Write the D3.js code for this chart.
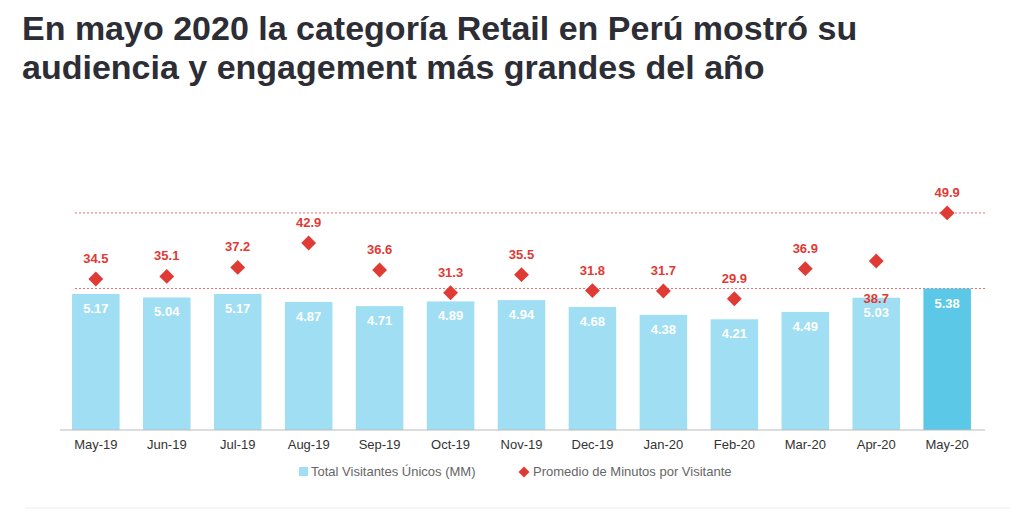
<!DOCTYPE html><html><head><meta charset="utf-8"><script src="https://cdn.jsdelivr.net/npm/d3@7"></script>
<style>body{margin:0;background:#fff}</style></head><body><svg id="c" width="1035" height="514"></svg>
<script>
const categories=["May-19","Jun-19","Jul-19","Aug-19","Sep-19","Oct-19","Nov-19","Dec-19","Jan-20","Feb-20","Mar-20","Apr-20","May-20"];
const visitantes=[5.17,5.04,5.17,4.87,4.71,4.89,4.94,4.68,4.38,4.21,4.49,5.03,5.38];
const minutos=[34.5,35.1,37.2,42.9,36.6,31.3,35.5,31.8,31.7,29.9,36.9,38.7,49.9];
const svg=d3.select("#c");
const F="Liberation Sans, Arial, sans-serif";
svg.append("text").attr("x",22).attr("y",40).attr("font-family",F).attr("font-weight","bold").attr("font-size",34).attr("fill","#2d2d35").text("En mayo 2020 la categoría Retail en Perú mostró su");
svg.append("text").attr("x",22).attr("y",79).attr("font-family",F).attr("font-weight","bold").attr("font-size",34).attr("fill","#2d2d35").text("audiencia y engagement más grandes del año");
const x=d3.scaleBand().domain(categories).range([60,983]).paddingInner(0.33).paddingOuter(0.17);
const yb=d3.scaleLinear().domain([0,10]).range([430,167]);
const yl=d3.scaleLinear().domain([0,50]).range([427,212.5]);
const dl=(y)=>svg.append("line").attr("x1",75).attr("x2",985).attr("y1",y).attr("y2",y).attr("stroke","#e87070").attr("stroke-width",1).attr("stroke-dasharray","2,2");
dl(yl(d3.max(minutos)));dl(yb(d3.max(visitantes)));
svg.selectAll("rect.b").data(categories).join("rect").attr("x",d=>x(d)).attr("width",x.bandwidth())
 .attr("y",(d,i)=>yb(visitantes[i])).attr("height",(d,i)=>430-yb(visitantes[i])).attr("fill",(d,i)=>i==12?"#5bc8e8":"#a0def3");
svg.selectAll("text.bv").data(categories).join("text").attr("x",d=>x(d)+x.bandwidth()/2).attr("y",(d,i)=>yb(visitantes[i])+19)
 .attr("text-anchor","middle").attr("font-family",F).attr("font-weight","bold").attr("font-size",13).attr("fill","#fff").text((d,i)=>visitantes[i].toFixed(2));
const ax=svg.append("g").attr("transform","translate(0,430)").call(d3.axisBottom(x).tickSize(0).tickPadding(10));
ax.select(".domain").attr("stroke","#bbb").attr("d","M60,0H985");
ax.selectAll("text").attr("font-family",F).attr("font-size",13).attr("fill","#333");
const sym=d3.symbol().type(d3.symbolSquare).size(110);
svg.selectAll("path.m").data(categories).join("path").attr("d",sym)
 .attr("transform",(d,i)=>`translate(${x(d)+x.bandwidth()/2},${yl(minutos[i])}) rotate(45)`).attr("fill","#e03a35");
svg.selectAll("text.mv").data(categories).join("text").attr("x",d=>x(d)+x.bandwidth()/2)
 .attr("y",(d,i)=>i==11?yl(minutos[i])+42:yl(minutos[i])-16).attr("text-anchor","middle").attr("font-family",F).attr("font-weight","bold").attr("font-size",13).attr("fill","#e03a35").text((d,i)=>minutos[i].toFixed(1));
svg.append("rect").attr("x",299).attr("y",467).attr("width",9).attr("height",9).attr("fill","#a0def3");
svg.append("text").attr("x",311).attr("y",476).attr("font-family",F).attr("font-size",13).attr("fill","#666").text("Total Visitantes Únicos (MM)");
svg.append("path").attr("d",d3.symbol().type(d3.symbolSquare).size(60)).attr("transform","translate(524,472) rotate(45)").attr("fill","#e03a35");
svg.append("text").attr("x",533).attr("y",476).attr("font-family",F).attr("font-size",13).attr("fill","#666").text("Promedio de Minutos por Visitante");
svg.append("line").attr("x1",25).attr("x2",1010).attr("y1",508).attr("y2",508).attr("stroke","#eee");
</script></body></html>
